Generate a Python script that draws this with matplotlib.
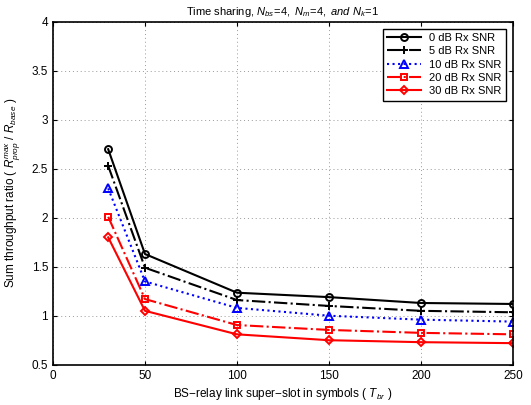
import matplotlib
matplotlib.use("Agg")
import matplotlib.pyplot as plt
from matplotlib.ticker import FixedLocator, FuncFormatter

plt.rcParams['font.family'] = ['Liberation Sans', 'DejaVu Sans']
plt.rcParams['mathtext.fontset'] = 'custom'
plt.rcParams['mathtext.rm'] = 'Liberation Sans'
plt.rcParams['mathtext.it'] = 'Liberation Sans:italic'

# data
T_br = [30, 50, 100, 150, 200, 250]
snr0 = [2.70, 1.63, 1.235, 1.19, 1.13, 1.12]
snr5 = [2.53, 1.49, 1.16, 1.10, 1.05, 1.035]
snr10 = [2.30, 1.35, 1.08, 1.00, 0.96, 0.94]
snr20 = [2.01, 1.17, 0.905, 0.855, 0.825, 0.81]
snr30 = [1.80, 1.05, 0.81, 0.75, 0.73, 0.72]
labels = ['0 dB Rx SNR', '5 dB Rx SNR', '10 dB Rx SNR', '20 dB Rx SNR', '30 dB Rx SNR']

fig = plt.figure(figsize=(5.31, 4.05), dpi=100)
ax = fig.add_axes([0.0998, 0.0995, 0.8662, 0.8465])

ax.plot(T_br, snr0, color='black', ls='-', lw=1.5, marker='o', ms=5, mfc='none', mew=1.4, label=labels[0])
ax.plot(T_br, snr5, color='black', ls='-.', lw=1.5, marker='+', ms=6, mew=1.4, label=labels[1])
ax.plot(T_br, snr10, color='blue', ls=':', lw=1.5, marker='^', ms=6, mfc='none', mew=1.4, label=labels[2])
ax.plot(T_br, snr20, color='red', ls='-.', lw=1.5, marker='s', ms=5, mfc='none', mew=1.4, label=labels[3])
ax.plot(T_br, snr30, color='red', ls='-', lw=1.5, marker='D', ms=4.5, mfc='none', mew=1.4, label=labels[4])

ax.set_xlim(0, 250)
ax.set_ylim(0.5, 4)
ax.xaxis.set_major_locator(FixedLocator([0, 50, 100, 150, 200, 250]))
ax.yaxis.set_major_locator(FixedLocator([0.5, 1, 1.5, 2, 2.5, 3, 3.5, 4]))
ax.yaxis.set_major_formatter(FuncFormatter(lambda v, p: ('%g' % v)))
ax.tick_params(direction='in', top=True, right=True, labelsize=8.5, length=3)
ax.grid(True, ls=(0, (1, 3)), color='#999999', lw=0.7)
for s in ax.spines.values():
    s.set_linewidth(1.2)

ax.set_title(r"Time sharing, $N_{bs}\!=\!\mathit{4,}\ N_m\!=\!\mathit{4,\ and}\ N_k\!=\!\mathit{1}$",
             fontsize=8, pad=5)
ax.set_xlabel(r"BS$-$relay link super$-$slot in symbols ( $T_{br}$ )", fontsize=8.5, labelpad=3)
ax.set_ylabel(r"Sum throughput ratio ( $R^{max}_{prop}$ / $R_{base}$ )", fontsize=8.5, labelpad=6)

leg = ax.legend(loc='upper right', fontsize=8, fancybox=False, edgecolor='black',
                framealpha=1, handlelength=3, borderaxespad=0.6, labelspacing=0.3)
leg.get_frame().set_linewidth(1.0)

fig.savefig('out.png', dpi=100)
